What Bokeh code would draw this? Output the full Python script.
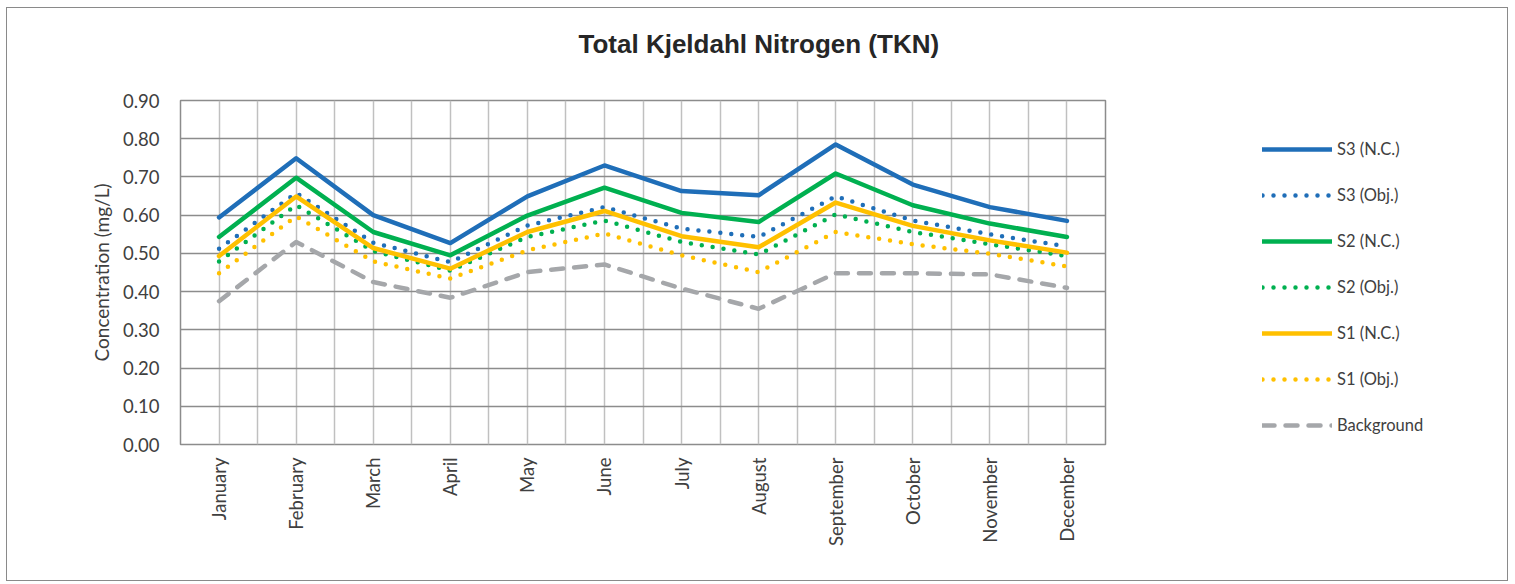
from bokeh.plotting import figure
from bokeh.models import FixedTicker, Legend, LegendItem, Range1d, NumeralTickFormatter, Title
from bokeh.embed import file_html
from bokeh.resources import INLINE
from math import pi

months = ["January", "February", "March", "April", "May", "June",
          "July", "August", "September", "October", "November", "December"]
s3_nc = [0.594, 0.749, 0.600, 0.527, 0.649, 0.730, 0.663, 0.652, 0.785, 0.680, 0.621, 0.585]
s3_obj = [0.512, 0.658, 0.528, 0.477, 0.573, 0.621, 0.565, 0.543, 0.649, 0.586, 0.550, 0.518]
s2_nc = [0.543, 0.698, 0.556, 0.495, 0.599, 0.672, 0.606, 0.582, 0.709, 0.626, 0.578, 0.543]
s2_obj = [0.479, 0.626, 0.506, 0.455, 0.543, 0.586, 0.530, 0.497, 0.602, 0.556, 0.524, 0.493]
s1_nc = [0.493, 0.649, 0.514, 0.460, 0.556, 0.611, 0.545, 0.516, 0.633, 0.572, 0.534, 0.502]
s1_obj = [0.448, 0.597, 0.479, 0.434, 0.508, 0.552, 0.495, 0.451, 0.556, 0.524, 0.499, 0.466]
background = [0.375, 0.530, 0.425, 0.384, 0.451, 0.471, 0.408, 0.355, 0.448, 0.448, 0.445, 0.410]
y_ticks = [0.0, 0.1, 0.2, 0.3, 0.4, 0.5, 0.6, 0.7, 0.8, 0.9]

BLUE = "#1F6EB8"
GREEN = "#00B050"
YELLOW = "#FFC000"
GRAY = "#A5A7AA"
FONT = "Lato"
TXT = "#404040"

xs = list(range(len(months)))

p = figure(title=None, frame_width=925, frame_height=344,
           x_range=Range1d(-0.5, len(months) - 0.5),
           y_range=Range1d(0, 0.9), output_backend="svg", toolbar_location=None,
           min_border_left=173, min_border_right=0, min_border_top=92,
           min_border_bottom=136, background_fill_color="white",
           border_fill_color="white",
           styles={"border": "1px solid #8a8a8a", "margin-left": "6px", "margin-top": "7px",
                   "max-width": "1502px", "overflow": "hidden"})

# spacer between frame and title (closest to the frame)
p.add_layout(Title(text=" ", text_font_size="1px", standoff=39), "above")
p.add_layout(Title(text="Total Kjeldahl Nitrogen (TKN)", align="left", offset=398,
                   standoff=0, text_font="Liberation Sans", text_font_style="bold",
                   text_font_size="26px", text_color="#262626"), "above")

p.outline_line_color = "#8c8c8c"
p.outline_line_width = 1.5

p.xgrid.ticker = FixedTicker(ticks=[-0.5 + 0.5 * i for i in range(2 * len(months) + 1)])
p.xgrid.grid_line_color = "#C0C0C0"
p.xgrid.grid_line_width = 1.5
p.ygrid.ticker = FixedTicker(ticks=y_ticks)
p.ygrid.grid_line_color = "#8c8c8c"
p.ygrid.grid_line_width = 1.5

p.xaxis.ticker = FixedTicker(ticks=xs)
p.xaxis.major_label_overrides = {i: m for i, m in zip(xs, months)}
p.xaxis.major_label_orientation = pi / 2
p.xaxis.major_label_standoff = 7
p.yaxis.ticker = FixedTicker(ticks=y_ticks)
p.yaxis.formatter = NumeralTickFormatter(format="0.00")
p.yaxis.major_label_standoff = 15
p.yaxis.axis_label = "Concentration (mg/L)"
p.yaxis.axis_label_standoff = 7
p.yaxis.axis_label_text_font_style = "normal"
for ax in (p.xaxis[0], p.yaxis[0]):
    ax.axis_line_color = None
    ax.major_tick_line_color = None
    ax.minor_tick_line_color = None
    ax.major_label_text_font = FONT
    ax.major_label_text_font_size = "18.5px"
    ax.major_label_text_color = TXT
    ax.axis_label_text_font = FONT
    ax.axis_label_text_font_size = "19px"
    ax.axis_label_text_color = TXT

series = [
    ("S3 (N.C.)", s3_nc, BLUE, None, 4.5),
    ("S3 (Obj.)", s3_obj, BLUE, "0 11", 4.5),
    ("S2 (N.C.)", s2_nc, GREEN, None, 4.5),
    ("S2 (Obj.)", s2_obj, GREEN, "0 11", 4.5),
    ("S1 (N.C.)", s1_nc, YELLOW, None, 4.5),
    ("S1 (Obj.)", s1_obj, YELLOW, "0 11", 4.5),
    ("Background", background, GRAY, "12 11", 4.5),
]
items = []
for name, ys, col, dash, w in series:
    kw = dict(line_color=col, line_width=w, line_join="round", line_cap="round")
    if dash:
        kw["line_dash"] = dash
    r = p.line(xs, ys, **kw)
    items.append(LegendItem(label=name, renderers=[r]))

legend = Legend(items=items, location=(157, 9), orientation="vertical",
                glyph_width=70, glyph_height=20, label_height=20, spacing=26,
                padding=0, margin=0, border_line_color=None,
                background_fill_alpha=0, label_standoff=5,
                label_text_font=FONT, label_text_font_size="16.5px",
                label_text_color=TXT)
p.add_layout(legend, "right")

open("out.html", "w").write(file_html(p, INLINE))
